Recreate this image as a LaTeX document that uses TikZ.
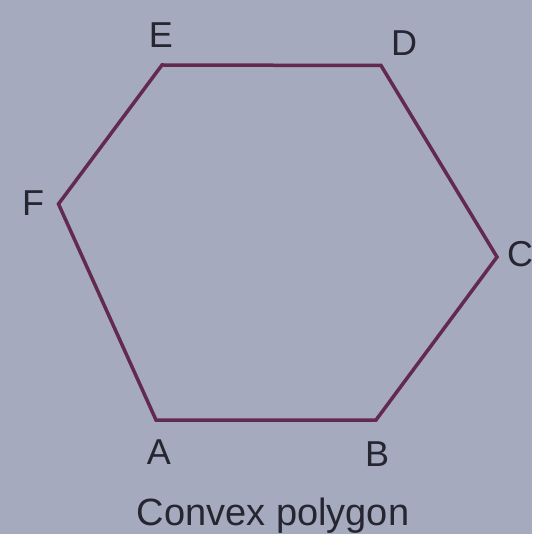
\documentclass[tikz,border=0pt]{standalone}
\usepackage{fontspec}
\setmainfont{Liberation Sans}
\definecolor{bgc}{RGB}{166,170,191}
\definecolor{edgec}{RGB}{98,42,78}
\definecolor{txtc}{RGB}{38,38,48}
\begin{document}
\begin{tikzpicture}[x=1pt,y=-1pt,
  vlabel/.style={text=txtc,font=\fontsize{36}{36}\selectfont,inner sep=0pt,anchor=base},
  caption/.style={text=txtc,font=\fontsize{38}{38}\selectfont,inner sep=0pt,anchor=base},
  edge/.style={draw=edgec,line width=3.5pt,line join=miter}]
\useasboundingbox (0,0) rectangle (532,534);
\clip (0,0) rectangle (532,534);
\fill[bgc] (0,0) rectangle (532,534);
\coordinate (A) at (156,420);
\coordinate (B) at (376,420);
\coordinate (C) at (497,257);
\coordinate (D) at (381,65.5);
\coordinate (E) at (162,65);
\coordinate (F) at (58.5,204);
\draw[edge] (A) -- (B) -- (C) -- (D) -- (E) -- (F) -- cycle;
\node[vlabel] (lE) at (161,48) {E};
\node[vlabel] (lD) at (404,56) {D};
\node[vlabel,anchor=base west] (lC) at (507,266) {C};
\node[vlabel] (lF) at (33,216) {F};
\node[vlabel] (lA) at (159,464) {A};
\node[vlabel] (lB) at (377,466) {B};
\node[caption] (cap) at (273,525) {Convex polygon};
\end{tikzpicture}
\end{document}
